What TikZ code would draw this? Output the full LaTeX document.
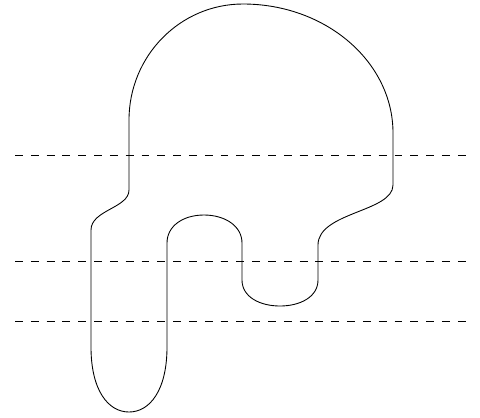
\documentclass[tikz,border=0pt]{standalone}
\begin{document}
\begin{tikzpicture}[x=0.02cm, y=-0.02cm, line width=0.5pt,
    level/.style={dash pattern=on 4.5pt off 4.5pt}]
  \useasboundingbox (0,0) rectangle (480,417);
  % levels
  \foreach \y/\name in {155/L1, 261/L2, 321/L3} {
    \coordinate (\name W) at (15,\y);
    \coordinate (\name E) at (469,\y);
    \draw[level] (\name W) -- (\name E);
  }
  % outline
  \coordinate (HL) at (129,190);
  \coordinate (HR) at (393,185);
  \coordinate (T) at (243,4);
  \draw (HL) -- (129,120) .. controls (129,56) and (180,4) .. (T)
    .. controls (326,4) and (393,62) .. (393,133) -- (HR)
    .. controls (393,212) and (318,212) .. (318,245) -- (318,280)
    .. controls (318,297) and (300,306) .. (280,306)
    .. controls (260,306) and (242,297) .. (242,280) -- (242,243)
    .. controls (242,226) and (225,215) .. (204,215)
    .. controls (183,215) and (167,226) .. (167,243) -- (167,347)
    .. controls (167,390) and (150,412) .. (129,412)
    .. controls (108,412) and (91,390) .. (91,347) -- (91,230)
    .. controls (91,210) and (129,208) .. (HL) -- cycle;
\end{tikzpicture}
\end{document}
